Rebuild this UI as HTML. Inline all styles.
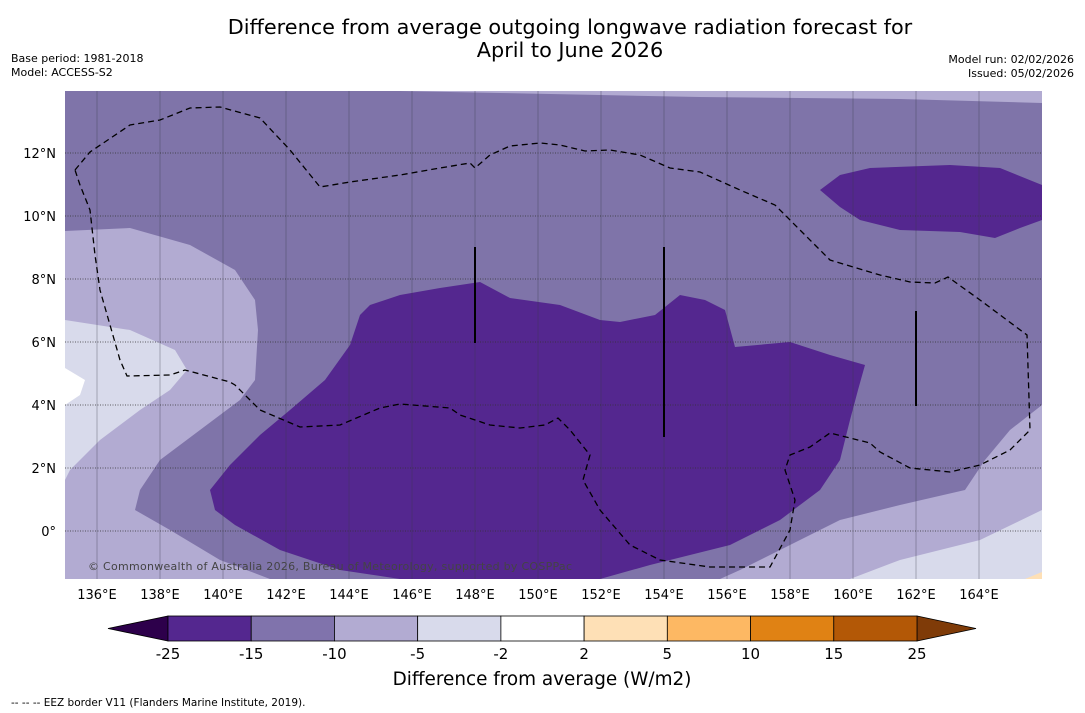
<!DOCTYPE html>
<html><head><meta charset="utf-8"><style>
body{margin:0;background:#fff;width:1085px;height:713px;overflow:hidden;font-family:"DejaVu Sans","Liberation Sans",sans-serif}
svg{position:absolute;left:0;top:0}
</style></head><body>
<svg id="c" width="1085" height="713" xmlns="http://www.w3.org/2000/svg" font-family="DejaVu Sans, Liberation Sans, sans-serif">
<text x="570" y="34" font-size="20.8" text-anchor="middle" fill="#000">Difference from average outgoing longwave radiation forecast for</text>
<text x="570" y="57" font-size="20.8" text-anchor="middle" fill="#000">April to June 2026</text>
<text x="11" y="62" font-size="11">Base period: 1981-2018</text>
<text x="11" y="76" font-size="11">Model: ACCESS-S2</text>
<text x="1074" y="63" font-size="11" text-anchor="end">Model run: 02/02/2026</text>
<text x="1074" y="77" font-size="11" text-anchor="end">Issued: 05/02/2026</text>
<defs><clipPath id="mc"><rect x="65" y="91" width="977" height="488"/></clipPath></defs>
<g clip-path="url(#mc)">
<rect x="65" y="91" width="977" height="488" fill="#7f74a9"/>
<polygon fill="#b2abd2" points="65,91 1042,91 1042,103 900,99 700,97 500,93 400,91"/>
<polygon fill="#b2abd2" points="65,231 130,228 190,245 235,270 255,300 258,330 255,380 240,400 200,430 160,460 140,490 135,510 170,530 220,560 270,579 65,579"/>
<polygon fill="#d8daeb" points="65,320 130,330 175,350 187,370 170,390 140,410 100,440 70,470 65,480"/>
<polygon fill="#ffffff" points="65,368 85,380 80,395 65,405"/>
<polygon fill="#b2abd2" points="1042,405 1010,430 985,460 965,490 900,505 840,520 790,545 740,570 720,579 1042,579"/>
<polygon fill="#d8daeb" points="1042,510 980,540 900,560 850,579 1042,579"/>
<polygon fill="#fee0b6" points="1042,572 1025,579 1042,579"/>
<polygon fill="#54278f" points="600,579 650,565 730,545 780,520 820,490 840,460 850,420 858,390 865,365 830,355 790,342 735,347 725,310 705,300 680,295 655,315 620,322 600,320 560,305 510,298 480,282 440,288 400,295 370,305 360,315 350,345 325,380 290,410 260,435 230,465 210,490 215,510 235,525 280,550 340,570 400,579"/>
<polygon fill="#54278f" points="820,190 840,175 870,168 950,165 1000,168 1042,185 1042,220 1020,228 995,238 960,232 900,230 860,220 840,207"/>
<g id="grid"></g>
<polygon fill="none" stroke="#000" stroke-width="1.3" stroke-dasharray="6,4" points="75,170 90,152 130,125 160,120 190,108 220,107 260,118 290,150 320,187 350,182 400,175 440,168 470,163 475,168 490,155 510,146 540,143 560,145 585,151 610,150 640,155 670,168 700,172 740,190 775,205 800,230 830,260 880,275 910,282 935,283 948,277 980,300 1027,335 1030,430 1010,450 980,465 950,472 910,468 880,452 870,443 830,433 810,447 790,455 785,470 795,500 790,530 770,567 710,567 660,560 630,545 600,510 583,480 590,455 570,430 558,418 545,425 520,428 490,425 460,415 450,408 400,404 380,408 340,425 300,427 260,410 235,385 230,382 185,370 170,375 127,376 120,360 100,290 95,255 90,210 80,185"/>
<line x1="475" y1="247" x2="475" y2="343" stroke="#000" stroke-width="2"/>
<line x1="664" y1="247" x2="664" y2="437" stroke="#000" stroke-width="2"/>
<line x1="916" y1="311" x2="916" y2="406" stroke="#000" stroke-width="2"/>
<text x="88" y="570" font-size="11" fill="#444" textLength="484">© Commonwealth of Australia 2026, Bureau of Meteorology, supported by COSPPac</text>
</g>
<g id="axes"></g>
<g id="cbar"></g>
<text x="542" y="685" font-size="18.4" text-anchor="middle">Difference from average (W/m2)</text>
<text x="11" y="706" font-size="10.5">--  --  -- EEZ border V11 (Flanders Marine Institute, 2019).</text>
</svg>
<script>
const lonTicks=[136,138,140,142,144,146,148,150,152,154,156,158,160,162,164];
const latTicks=[0,2,4,6,8,10,12];
const cbarLevels=[-25,-15,-10,-5,-2,2,5,10,15,25];
const cbarColors=["#54278f","#8073ac","#b2abd2","#d8daeb","#ffffff","#fee0b6","#fdb863","#e08214","#b35806"];
const cbarExtLow="#2d004b", cbarExtHigh="#7f3b08";
const NS="http://www.w3.org/2000/svg";
const xLon=l=>97+(l-136)*31.5;
const yLat=l=>531-l*31.5;
function mk(t,a,p){const e=document.createElementNS(NS,t);for(const k in a)e.setAttribute(k,a[k]);p.appendChild(e);return e;}
const grid=document.getElementById('grid'),axes=document.getElementById('axes'),cb=document.getElementById('cbar');
lonTicks.forEach(l=>{
 const g=mk('line',{x1:xLon(l),x2:xLon(l),y1:91,y2:579,stroke:'#3a3a4a','stroke-width':0.5,'stroke-opacity':0.7},grid);
 
 
 const t=mk('text',{x:xLon(l),y:599,'font-size':13,'text-anchor':'middle'},axes);t.textContent=l+'°E';
 
 
});
latTicks.forEach(l=>{
 const g=mk('line',{x1:65,x2:1042,y1:yLat(l),y2:yLat(l),stroke:'#333','stroke-width':0.7,'stroke-dasharray':'1,1.5'},grid);
 
 
 const t=mk('text',{x:56,y:yLat(l)+5,'font-size':13,'text-anchor':'end'},axes);t.textContent=l===0?'0°':l+'°N';
 
 
});
const x0=168,x1=917,y0=616,h=25,n=cbarColors.length,w=(x1-x0)/n;
const lo=mk('polygon',{points:`108,${y0+h/2} ${x0},${y0} ${x0},${y0+h}`,fill:cbarExtLow,stroke:'#000','stroke-width':0.8},cb);


const hi=mk('polygon',{points:`976,${y0+h/2} ${x1},${y0} ${x1},${y0+h}`,fill:cbarExtHigh,stroke:'#000','stroke-width':0.8},cb);


cbarColors.forEach((c,i)=>{
 const r=mk('rect',{x:x0+i*w,y:y0,width:w,height:h,fill:c,stroke:'#000','stroke-width':0.8},cb);
 
 
});
cbarLevels.forEach((v,i)=>{
 const t=mk('text',{x:x0+i*w,y:659,'font-size':15,'text-anchor':'middle'},cb);t.textContent=v;
 
 
});
</script>
</body></html>
